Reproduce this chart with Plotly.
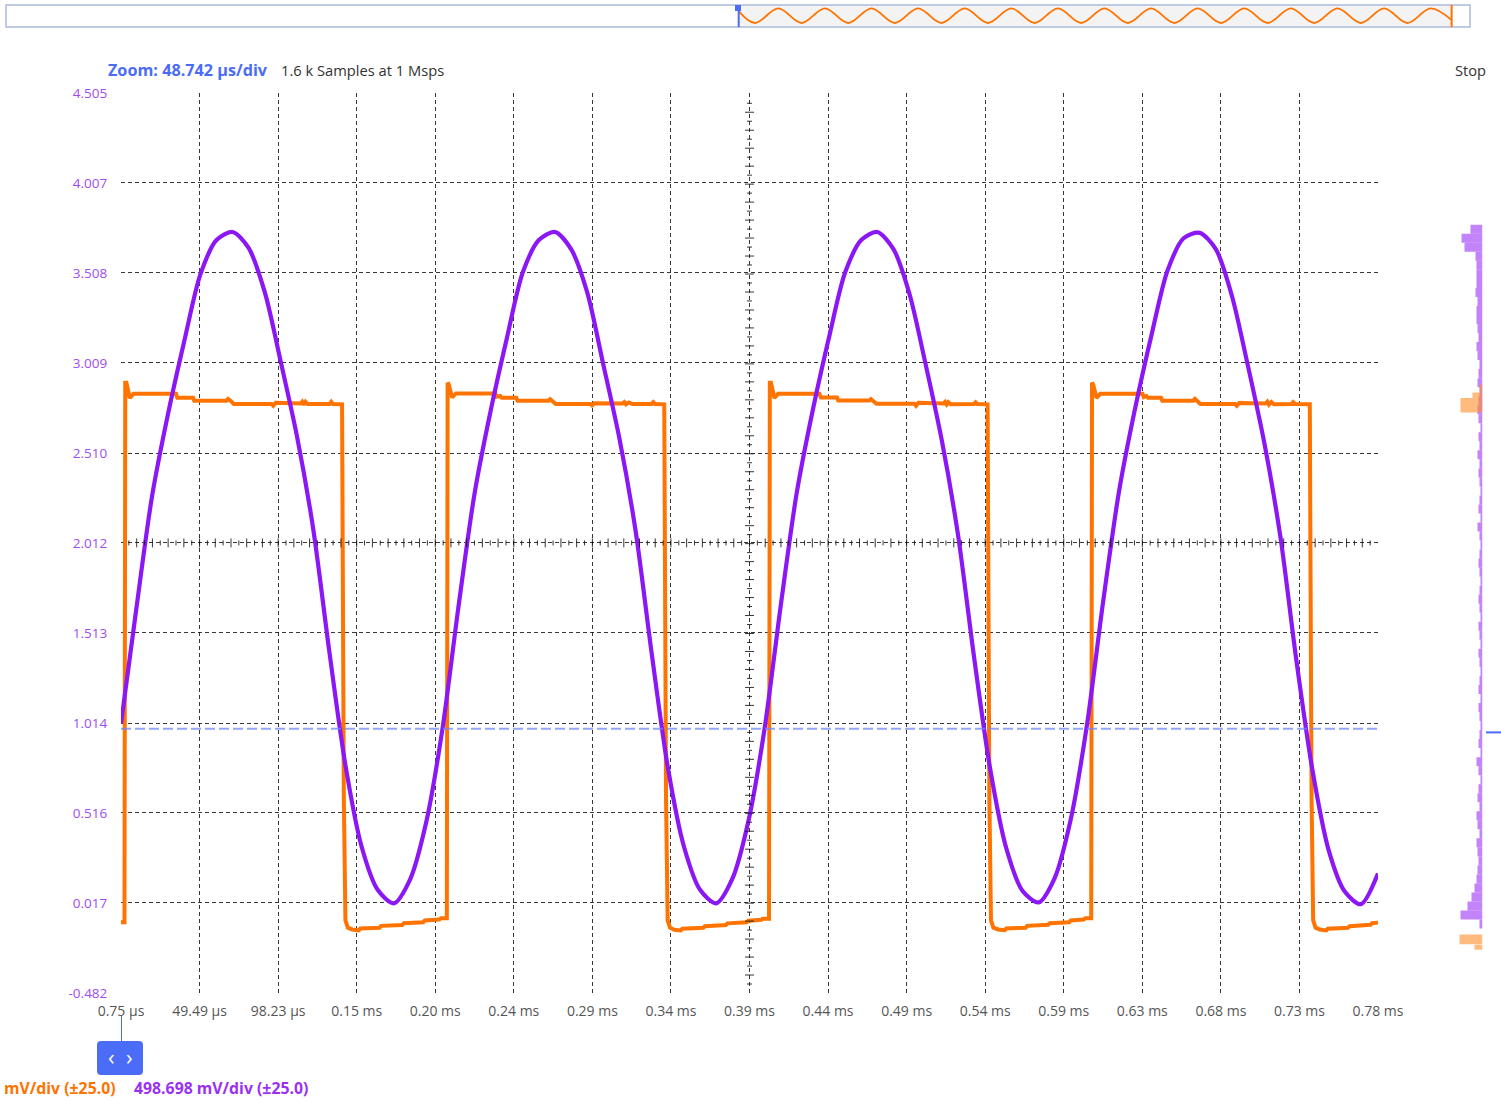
import plotly.graph_objects as go

W, H = 1501, 1101


def px(x):
    return x / W


def py(y):
    return 1 - y / H


# ---------------- data ----------------
x_tickvals = [0.75, 49.492, 98.234, 146.976, 195.718, 244.46, 293.202, 341.944, 390.686,
              439.428, 488.17, 536.912, 585.654, 634.396, 683.138, 731.88, 780.622]
x_ticktext = ["0.75 µs", "49.49 µs", "98.23 µs", "0.15 ms", "0.20 ms", "0.24 ms", "0.29 ms",
              "0.34 ms", "0.39 ms", "0.44 ms", "0.49 ms", "0.54 ms", "0.59 ms", "0.63 ms",
              "0.68 ms", "0.73 ms", "0.78 ms"]
y_tickvals = [4.505, 4.007, 3.508, 3.009, 2.510, 2.012, 1.513, 1.014, 0.516, 0.017, -0.482]
y_ticktext = ["4.505", "4.007", "3.508", "3.009", "2.510", "2.012", "1.513", "1.014", "0.516",
              "0.017", "-0.482"]

trigger_level = 0.982

# purple channel (sine-like), time in µs, volts
purple_t = [0.75, 10, 20, 30, 40, 50, 60, 70, 80, 90,
            100, 110, 120, 130, 140, 150, 160, 170, 180, 190,
            200, 210, 220, 230, 240, 250, 260, 270, 280, 290,
            300, 310, 320, 330, 340, 350, 360, 370, 380, 390,
            400, 410, 420, 430, 440, 450, 460, 470, 480, 490,
            500, 510, 520, 530, 540, 550, 560, 570, 580, 590,
            600, 610, 620, 630, 640, 650, 660, 670, 680, 690,
            700, 710, 720, 730, 740, 750, 760, 770, 780.6]
purple_v = [1.01, 1.63, 2.27, 2.73, 3.13, 3.50, 3.69, 3.735, 3.645, 3.40,
            3.01, 2.60, 2.09, 1.41, 0.78, 0.33, 0.09, 0.015, 0.145, 0.46,
            0.97, 1.65, 2.28, 2.74, 3.14, 3.51, 3.69, 3.735, 3.64, 3.40,
            3.00, 2.59, 2.08, 1.40, 0.77, 0.33, 0.09, 0.015, 0.15, 0.47,
            0.98, 1.66, 2.29, 2.75, 3.15, 3.51, 3.69, 3.735, 3.64, 3.39,
            3.00, 2.58, 2.06, 1.38, 0.76, 0.32, 0.085, 0.02, 0.155, 0.48,
            1.00, 1.68, 2.30, 2.76, 3.16, 3.52, 3.70, 3.73, 3.64, 3.38,
            2.99, 2.57, 2.05, 1.36, 0.75, 0.31, 0.08, 0.01, 0.18]

# orange channel (square), time in µs, volts
orange_t = [0.75, 2.9, 3.4, 4.1, 6.2, 8.5, 34.9, 35.7, 45.5, 46.2,
            66.2, 67.2, 68.7, 70.7, 94.2, 95.2, 96.7, 112.2, 113.2, 114.2,
            115.2, 116.5, 130.2, 131.2, 132.2, 137.9, 139.0, 140.0, 141.5, 144.2,
            148.2, 149.2, 161.2, 162.2, 175.2, 176.2, 188.2, 189.2, 198.2, 199.2,
            202.9,
            203.4, 204.1, 206.2, 208.5, 233.0, 233.8, 236.0, 237.0, 246.0, 246.8,
            266.0, 267.0, 268.5, 270.5, 292.0, 293.0, 294.5, 312.0, 313.0, 314.0,
            316.0, 318.0, 330.0, 331.0, 332.0, 337.8, 338.9, 339.9, 341.4, 344.0,
            348.0, 349.0, 362.0, 363.0, 376.0, 377.0, 389.0, 390.0, 398.0, 399.0,
            402.8,
            403.3, 404.0, 406.1, 408.4, 434.0, 435.0, 445.0, 445.8, 465.0, 466.0,
            467.5, 469.5, 493.0, 494.0, 495.5, 511.0, 512.0, 513.0, 514.0, 515.5,
            530.0, 531.0, 532.0, 538.4, 539.5, 540.5, 542.0, 545.0, 549.0, 550.0,
            562.0, 563.0, 576.0, 577.0, 589.0, 590.0, 598.0, 599.0, 602.7,
            603.2, 603.9, 606.0, 608.3, 634.5, 635.3, 637.0, 638.0, 646.0, 646.8,
            666.0, 667.0, 668.5, 670.5, 692.0, 693.0, 694.5, 711.0, 712.0, 713.0,
            714.5, 716.0, 727.0, 728.0, 729.0, 738.3, 739.4, 740.4, 741.9, 744.5,
            748.5, 749.5, 762.0, 763.0, 776.0, 777.0, 780.6]
orange_v = [-0.09, -0.09, 2.90, 2.90, 2.815, 2.838, 2.838, 2.816, 2.816, 2.800,
            2.800, 2.810, 2.800, 2.782, 2.782, 2.772, 2.788, 2.784, 2.794, 2.778,
            2.794, 2.782, 2.782, 2.794, 2.782, 2.780, 0.6, -0.08, -0.12, -0.13,
            -0.135, -0.125, -0.12, -0.11, -0.105, -0.095, -0.09, -0.08, -0.075, -0.068,
            -0.068,
            2.90, 2.89, 2.818, 2.840, 2.840, 2.822, 2.826, 2.816, 2.816, 2.800,
            2.800, 2.808, 2.798, 2.782, 2.782, 2.774, 2.786, 2.784, 2.792, 2.780,
            2.790, 2.782, 2.782, 2.792, 2.782, 2.780, 0.6, -0.08, -0.12, -0.132,
            -0.135, -0.126, -0.12, -0.112, -0.105, -0.096, -0.09, -0.082, -0.076, -0.07,
            -0.07,
            2.90, 2.90, 2.815, 2.838, 2.838, 2.818, 2.818, 2.801, 2.801, 2.809,
            2.800, 2.783, 2.783, 2.772, 2.788, 2.784, 2.793, 2.779, 2.792, 2.781,
            2.782, 2.791, 2.782, 2.780, 0.6, -0.08, -0.12, -0.13, -0.134, -0.125,
            -0.12, -0.11, -0.104, -0.095, -0.09, -0.08, -0.075, -0.068, -0.068,
            2.90, 2.89, 2.815, 2.838, 2.838, 2.820, 2.826, 2.816, 2.816, 2.800,
            2.800, 2.810, 2.799, 2.782, 2.782, 2.772, 2.787, 2.784, 2.794, 2.778,
            2.793, 2.781, 2.782, 2.792, 2.782, 2.780, 0.6, -0.08, -0.12, -0.13,
            -0.135, -0.126, -0.12, -0.112, -0.104, -0.095, -0.092]

# value histograms at the right edge (bin centre V, count)
purple_hist_v = [-0.10, -0.05, 0.00, 0.05, 0.10, 0.15, 0.20, 0.25, 0.30, 0.35,
                 0.40, 0.45, 0.50, 0.55, 0.60, 0.65, 0.70, 0.75, 0.80, 0.85,
                 0.90, 0.95, 1.00, 1.05, 1.10, 1.15, 1.20, 1.25, 1.30, 1.35,
                 1.40, 1.45, 1.50, 1.55, 1.60, 1.65, 1.70, 1.75, 1.80, 1.85,
                 1.90, 1.95, 2.00, 2.05, 2.10, 2.15, 2.20, 2.25, 2.30, 2.35,
                 2.40, 2.45, 2.50, 2.55, 2.60, 2.65, 2.70, 2.75, 2.80, 2.85,
                 2.90, 2.95, 3.00, 3.05, 3.10, 3.15, 3.20, 3.25, 3.30, 3.35,
                 3.40, 3.45, 3.50, 3.55, 3.60, 3.65, 3.70, 3.75]
purple_hist_n = [3, 22, 15, 11, 8, 6, 5, 4, 5, 6,
                 3, 5, 6, 3, 5, 4, 2, 4, 6, 2,
                 4, 3, 2, 3, 4, 2, 4, 3, 2, 3,
                 4, 2, 3, 4, 2, 3, 4, 3, 2, 3,
                 4, 3, 2, 3, 5, 2, 4, 3, 2, 3,
                 4, 3, 5, 3, 4, 2, 4, 5, 4, 3,
                 5, 4, 3, 5, 6, 4, 5, 6, 6, 5,
                 7, 6, 6, 6, 7, 18, 21, 12]
orange_hist_v = [2.87, 2.83, 2.775, -0.185, -0.228]
orange_hist_n = [3, 10, 22, 23, 8]
orange_hist_w = [0.04, 0.03, 0.08, 0.055, 0.028]

# overview strip: full 1.6 k sample buffer, zoom window and its waveform extremes
buffer_samples = [0, 1600]
window_samples = [800.75, 1581]
mini_t = [801, 818.6, 844.1, 869.6, 895.1, 920.6, 946.1, 971.6, 997.1, 1022.6,
          1048.1, 1073.6, 1099.1, 1124.6, 1150.1, 1175.6, 1201.1, 1226.6, 1252.1, 1277.6,
          1303.1, 1328.6, 1354.1, 1379.6, 1405.1, 1430.6, 1456.1, 1481.6, 1507.1, 1532.6,
          1558.1, 1581]
mini_v = [0.6, -1, 1, -1, 1, -1, 1, -1, 1, -1,
          1, -1, 1, -1, 1, -1, 1, -1, 1, -1,
          1, -1, 1, -1, 1, -1, 1, -1, 1, -1,
          1, -0.6]

# ---------------- styles ----------------
ORANGE = "#ff7300"
PURPLE = "#8b17f5"
BLUE = "#4a6cf7"
GRID = "rgba(20,20,20,0.85)"
FONT = "Open Sans"

fig = go.Figure()

fig.add_trace(go.Scatter(x=orange_t, y=orange_v, mode="lines",
                         line=dict(color=ORANGE, width=4), xaxis="x", yaxis="y",
                         hoverinfo="skip", showlegend=False))
fig.add_trace(go.Scatter(x=purple_t, y=purple_v, mode="lines",
                         line=dict(color=PURPLE, width=4.2, shape="spline", smoothing=0.8),
                         xaxis="x", yaxis="y", hoverinfo="skip", showlegend=False))

fig.add_trace(go.Bar(y=purple_hist_v, x=purple_hist_n, orientation="h", width=0.05,
                     marker=dict(color="rgba(170,80,250,0.7)", line=dict(width=0)),
                     xaxis="x3", yaxis="y4", hoverinfo="skip", showlegend=False))
fig.add_trace(go.Bar(y=orange_hist_v, x=orange_hist_n, orientation="h", width=orange_hist_w,
                     marker=dict(color="rgba(255,140,40,0.6)", line=dict(width=0)),
                     xaxis="x3", yaxis="y4", hoverinfo="skip", showlegend=False))

fig.add_trace(go.Scatter(x=mini_t, y=mini_v, mode="lines",
                         line=dict(color=ORANGE, width=1.8, shape="spline", smoothing=1.0),
                         xaxis="x2", yaxis="y2", hoverinfo="skip", showlegend=False))

x_grid = x_tickvals[1:-1]
y_grid = y_tickvals[1:-1]

shapes = []
# overview strip
shapes.append(dict(type="rect", xref="paper", yref="paper", x0=px(6), x1=px(1470), y0=py(27), y1=py(5),
                   line=dict(color="#a9b9d9", width=1.5), fillcolor="white", layer="below"))
shapes.append(dict(type="rect", xref="x2", yref="paper", x0=window_samples[0], x1=window_samples[1],
                   y0=py(26), y1=py(6), line=dict(width=0), fillcolor="#f3f3f3", layer="below"))
shapes.append(dict(type="line", xref="x2", yref="paper", x0=window_samples[0], x1=window_samples[0],
                   y0=py(27), y1=py(5), line=dict(color=BLUE, width=2)))
shapes.append(dict(type="rect", xref="paper", yref="paper", x0=px(735), x1=px(741), y0=py(11), y1=py(5),
                   line=dict(width=0), fillcolor=BLUE))
shapes.append(dict(type="line", xref="x2", yref="paper", x0=window_samples[1], x1=window_samples[1],
                   y0=py(27), y1=py(5), line=dict(color=ORANGE, width=2)))

# trigger level
shapes.append(dict(type="line", xref="x", yref="y", x0=x_tickvals[0], x1=x_tickvals[-1],
                   y0=trigger_level, y1=trigger_level,
                   line=dict(color="rgba(110,135,250,0.75)", width=2, dash="10px,4px")))
shapes.append(dict(type="line", xref="paper", yref="y", x0=px(1486), x1=px(1501),
                   y0=trigger_level - 0.02, y1=trigger_level - 0.02, line=dict(color=BLUE, width=2)))

# centre crosshair tick marks
xdiv = x_tickvals[1] - x_tickvals[0]
ydiv = y_tickvals[0] - y_tickvals[1]
ycen = y_tickvals[5]
xcen = x_tickvals[8]
vpx = ydiv / 90.0
hpx = xdiv / 78.5
for k in range(1, 160):
    xx = x_tickvals[0] + k * xdiv / 10
    ln = 4.5 if k % 2 == 0 else 2.5
    shapes.append(dict(type="line", xref="x", yref="y", x0=xx, x1=xx,
                       y0=ycen - ln * vpx, y1=ycen + ln * vpx, line=dict(color=GRID, width=1)))
for k in range(1, 100):
    yy = y_tickvals[-1] + k * ydiv / 10
    ln = 4.5 if k % 2 == 0 else 2.5
    shapes.append(dict(type="line", xref="x", yref="y", x0=xcen - ln * hpx, x1=xcen + ln * hpx,
                       y0=yy, y1=yy, line=dict(color=GRID, width=1)))

# bottom scroll handle (rounded box)
bx0, bx1, by0, by1, r = px(97), px(143), py(1075), py(1041), 4
rx, ry = r / W, r / H
handle_path = (f"M {bx0+rx},{by0} L {bx1-rx},{by0} Q {bx1},{by0} {bx1},{by0+ry} "
               f"L {bx1},{by1-ry} Q {bx1},{by1} {bx1-rx},{by1} L {bx0+rx},{by1} "
               f"Q {bx0},{by1} {bx0},{by1-ry} L {bx0},{by0+ry} Q {bx0},{by0} {bx0+rx},{by0} Z")
shapes.append(dict(type="line", xref="x", yref="paper", x0=x_tickvals[0], x1=x_tickvals[0],
                   y0=py(1041), y1=py(1016), line=dict(color=BLUE, width=2)))
shapes.append(dict(type="path", xref="paper", yref="paper", path=handle_path,
                   line=dict(width=0), fillcolor=BLUE))

annotations = [
    dict(text="Zoom: 48.742 µs/div", x=px(106), y=py(70), xref="paper", yref="paper",
         xanchor="left", yanchor="middle", showarrow=False,
         font=dict(family=FONT, size=16.2, color=BLUE, weight="bold")),
    dict(text="1.6 k Samples at 1 Msps", x=px(279), y=py(70), xref="paper", yref="paper",
         xanchor="left", yanchor="middle", showarrow=False,
         font=dict(family=FONT, size=14.7, color="#333333")),
    dict(text="Stop", x=px(1488), y=py(70), xref="paper", yref="paper",
         xanchor="right", yanchor="middle", showarrow=False,
         font=dict(family=FONT, size=14.7, color="#333333")),
    dict(text="‹  ›", x=px(120), y=py(1056), xref="paper", yref="paper",
         xanchor="center", yanchor="middle", showarrow=False,
         font=dict(family=FONT, size=22, color="white")),
    dict(text="mV/div (±25.0)", x=px(118), y=py(1088), xref="paper", yref="paper",
         xanchor="right", yanchor="middle", showarrow=False,
         font=dict(family=FONT, size=15.8, color=ORANGE, weight="bold")),
    dict(text="498.698 mV/div (±25.0)", x=px(132), y=py(1088), xref="paper", yref="paper",
         xanchor="left", yanchor="middle", showarrow=False,
         font=dict(family=FONT, size=15.8, color="#9b30f5", weight="bold")),
]

fig.update_layout(
    width=W, height=H,
    margin=dict(l=0, r=0, t=0, b=0),
    paper_bgcolor="white", plot_bgcolor="rgba(0,0,0,0)",
    font=dict(family=FONT),
    showlegend=False,
    barmode="overlay",
    xaxis=dict(domain=[px(121), px(1378)], range=[x_tickvals[0], x_tickvals[-1]], anchor="y",
               tickmode="array", tickvals=x_tickvals, ticktext=x_ticktext,
               showgrid=False, zeroline=False, showline=False,
               ticks="outside", ticklen=5, tickcolor="rgba(0,0,0,0)",
               tickfont=dict(family=FONT, size=14, color="#555555"), automargin=False,
               minor=dict(tickvals=x_grid, showgrid=True, gridcolor=GRID, griddash="4px,3px",
                          gridwidth=1, ticks="")),
    yaxis=dict(domain=[py(993), py(93)], range=[y_tickvals[-1], y_tickvals[0]], anchor="x",
               tickmode="array", tickvals=y_tickvals, ticktext=y_ticktext,
               showgrid=False, zeroline=False, showline=False,
               ticks="outside", ticklen=10, tickcolor="rgba(0,0,0,0)",
               tickfont=dict(family=FONT, size=13.5, color="#a04cf0"), automargin=False,
               minor=dict(tickvals=y_grid, showgrid=True, gridcolor=GRID, griddash="4px,3px",
                          gridwidth=1, ticks="")),
    xaxis2=dict(domain=[px(7), px(1469)], range=buffer_samples, anchor="y2", visible=False),
    yaxis2=dict(domain=[py(26), py(6)], range=[-1.41, 1.33], anchor="x2", visible=False),
    xaxis3=dict(domain=[px(1459), px(1482.5)], range=[23.5, 0], anchor="y4", visible=False),
    yaxis4=dict(domain=[py(993), py(93)], range=[y_tickvals[-1], y_tickvals[0]], anchor="x3",
                visible=False, showgrid=False),
    shapes=shapes,
    annotations=annotations,
)

fig.write_html("out.html", config={"displayModeBar": False},
               post_script="document.body.style.margin='0';document.body.style.overflow='hidden';")
